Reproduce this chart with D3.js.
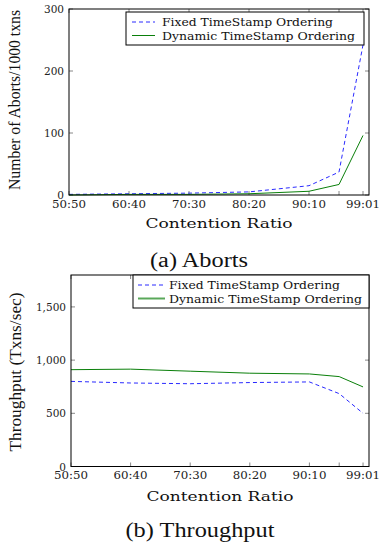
<!DOCTYPE html>
<html>
<head>
<meta charset="utf-8">
<script src="https://cdn.jsdelivr.net/npm/d3@7"></script>
<style>
  body { margin: 0; background: #fff; }
  svg { display: block; }
  .tick-label { font-family: "DejaVu Serif", serif; font-size: 10.5px; fill: #222; }
  .legend-text { font-family: "DejaVu Serif", serif; font-size: 11px; fill: #111; }
  .axis-title { font-family: "DejaVu Serif", serif; font-size: 13.5px; fill: #111; }
  .y-title { font-family: "Liberation Serif", serif; font-size: 16px; fill: #111; }
  .caption { font-family: "Liberation Serif", serif; font-size: 20px; fill: #111; }
</style>
</head>
<body>
<svg id="chart" width="380" height="546"></svg>
<script>
// contention ratios (x positions are the first number of each ratio)
const ratios = [50, 60, 70, 80, 90, 95, 99];
const xTickLabels = ["50:50", "60:40", "70:30", "80:20", "90:10", "", "99:01"];

// (a) aborts per 1000 txns
const abortsFixed = [1, 2, 3, 5, 15, 37, 242];
const abortsDynamic = [0, 1, 1, 2, 6, 17, 96];
const abortTicks = [0, 100, 200, 300];

// (b) throughput, txns/sec
const tputFixed = [800, 785, 778, 789, 795, 685, 500];
const tputDynamic = [910, 915, 896, 877, 870, 845, 748];
const tputTicks = [0, 500, 1000, 1500];

const seriesNames = ["Fixed TimeStamp Ordering", "Dynamic TimeStamp Ordering"];
const legendWidths = [171, 193];

const svg = d3.select("#chart");

function drawPanel(opts) {
    const g = svg.append("g");
    const x = d3.scaleLinear().domain([50, 100]).range([opts.left, opts.right]);
    const y = d3.scaleLinear().domain(opts.yDomain).range([opts.bottom, opts.top]);

    // ticks inside the frame, gray, mirrored
    const tickLen = 4;
    ratios.forEach(v => {
        g.append("line").attr("x1", x(v)).attr("x2", x(v))
            .attr("y1", opts.bottom).attr("y2", opts.bottom - tickLen)
            .attr("stroke", "#888").attr("stroke-width", 1);
        g.append("line").attr("x1", x(v)).attr("x2", x(v))
            .attr("y1", opts.top).attr("y2", opts.top + tickLen)
            .attr("stroke", "#888").attr("stroke-width", 1);
    });
    opts.yTicks.forEach(v => {
        g.append("line").attr("x1", opts.left).attr("x2", opts.left + tickLen)
            .attr("y1", y(v)).attr("y2", y(v))
            .attr("stroke", "#888").attr("stroke-width", 1);
        g.append("line").attr("x1", opts.right).attr("x2", opts.right - tickLen)
            .attr("y1", y(v)).attr("y2", y(v))
            .attr("stroke", "#888").attr("stroke-width", 1);
    });

    // tick labels
    g.selectAll(".xl").data(ratios).enter().append("text")
        .attr("class", "tick-label")
        .attr("x", d => x(d))
        .attr("y", opts.bottom + 12.5)
        .attr("text-anchor", "middle")
        .attr("textLength", (d, i) => xTickLabels[i] ? 34 : null)
        .attr("lengthAdjust", "spacingAndGlyphs")
        .text((d, i) => xTickLabels[i]);
    g.selectAll(".yl").data(opts.yTicks).enter().append("text")
        .attr("class", "tick-label")
        .attr("x", opts.left - 5)
        .attr("y", d => y(d) + 4)
        .attr("text-anchor", "end")
        .text(d => d3.format(",")(d));

    // lines
    const line = d3.line().x((d, i) => x(ratios[i])).y(d => y(d));
    g.append("path").datum(opts.fixed)
        .attr("d", line).attr("fill", "none")
        .attr("stroke", "#2a2aff").attr("stroke-width", 1)
        .attr("stroke-dasharray", "4,3");
    g.append("path").datum(opts.dynamic)
        .attr("d", line).attr("fill", "none")
        .attr("stroke", "#0a7f0a").attr("stroke-width", 1);

    // frame
    g.append("rect")
        .attr("x", opts.left).attr("y", opts.top)
        .attr("width", opts.right - opts.left).attr("height", opts.bottom - opts.top)
        .attr("fill", "none").attr("stroke", "#000").attr("stroke-width", 1);

    // legend
    const lg = opts.legend;
    g.append("rect")
        .attr("x", lg.x).attr("y", lg.y).attr("width", lg.w).attr("height", lg.h)
        .attr("fill", "#fff").attr("stroke", "#000").attr("stroke-width", 1);
    seriesNames.forEach((name, i) => {
        const ly = lg.y + 10 + i * 13.5;
        g.append("line")
            .attr("x1", lg.x + lg.s0).attr("x2", lg.x + lg.s1)
            .attr("y1", ly).attr("y2", ly)
            .attr("stroke", i === 0 ? "#2a2aff" : lg.greenC)
            .attr("stroke-width", i === 0 ? 1 : lg.greenW)
            .attr("stroke-dasharray", i === 0 ? "4,3" : null);
        g.append("text").attr("class", "legend-text")
            .attr("x", lg.x + 36).attr("y", ly + 4)
            .attr("textLength", legendWidths[i])
            .attr("lengthAdjust", "spacingAndGlyphs")
            .text(name);
    });

    // axis titles
    g.append("text").attr("class", "axis-title")
        .attr("x", (opts.left + opts.right) / 2)
        .attr("y", opts.xTitleY)
        .attr("text-anchor", "middle")
        .attr("textLength", 147)
        .attr("lengthAdjust", "spacingAndGlyphs")
        .text("Contention Ratio");
    g.append("text").attr("class", "y-title")
        .attr("transform", `translate(${opts.yTitleX},${opts.yTitleC}) rotate(-90)`)
        .attr("text-anchor", "middle")
        .attr("textLength", opts.yTitleLen)
        .attr("lengthAdjust", "spacingAndGlyphs")
        .text(opts.yTitle);

    // caption
    g.append("text").attr("class", "caption")
        .attr("x", opts.captionX)
        .attr("y", opts.captionY)
        .attr("text-anchor", "middle")
        .attr("textLength", opts.captionLen)
        .attr("lengthAdjust", "spacingAndGlyphs")
        .text(opts.caption);
}

drawPanel({
    left: 69, right: 369, top: 9, bottom: 195,
    yDomain: [0, 300], yTicks: abortTicks,
    fixed: abortsFixed, dynamic: abortsDynamic,
    legend: { x: 126, y: 12, w: 238, h: 33, s0: 6, s1: 29, greenW: 1, greenC: "#0a7f0a" },
    xTitleY: 228,
    yTitle: "Number of Aborts/1000 txns", yTitleX: 20, yTitleC: 100, yTitleLen: 180,
    caption: "(a) Aborts", captionX: 199, captionY: 267, captionLen: 98
});

drawPanel({
    left: 71, right: 369, top: 275, bottom: 466.5,
    yDomain: [0, 1800], yTicks: tputTicks,
    fixed: tputFixed, dynamic: tputDynamic,
    legend: { x: 133, y: 275, w: 236, h: 33, s0: 5, s1: 32, greenW: 2, greenC: "#5aa85a" },
    xTitleY: 501,
    yTitle: "Throughput (Txns/sec)", yTitleX: 21, yTitleC: 372, yTitleLen: 159,
    caption: "(b) Throughput", captionX: 200, captionY: 537, captionLen: 149
});
</script>
</body>
</html>
